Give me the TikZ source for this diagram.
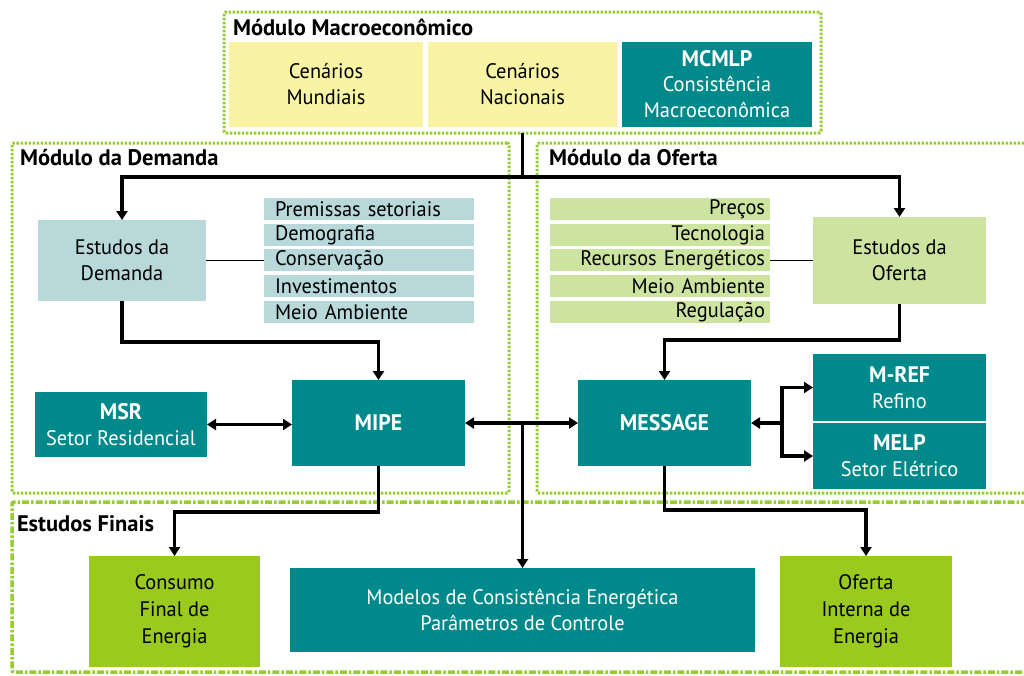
\documentclass[tikz,border=0pt]{standalone}
\usepackage{fontspec}
\setmainfont{PT Sans}[FakeStretch=0.97]
\newfontfamily\titlefont{PT Sans}
\usetikzlibrary{arrows.meta}
\definecolor{cTeal}{RGB}{0,137,139}
\definecolor{cYellow}{RGB}{248,244,164}
\definecolor{cBlue}{RGB}{184,216,218}
\definecolor{cLGreen}{RGB}{205,227,160}
\definecolor{cGreen}{RGB}{154,202,30}
\definecolor{cFrame}{RGB}{153,204,51}
\newcommand{\acr}[1]{{\fontsize{22.5}{26}\selectfont\bfseries #1}}
\begin{document}
\begin{tikzpicture}[x=1pt,y=-1pt,
  blk/.style={inner sep=0pt, outer sep=0pt, align=center, font=\fontsize{21}{26}\selectfont},
  tealbox/.style={blk, fill=cTeal, text=white},
  yelbox/.style={blk, fill=cYellow},
  bluebox/.style={blk, fill=cBlue},
  lgbox/.style={blk, fill=cLGreen},
  grbox/.style={blk, fill=cGreen},
  lbl/.style={inner sep=0pt, outer sep=0pt, anchor=base west, font=\titlefont\fontsize{22.5}{26}\selectfont\bfseries},
  frame/.style={draw=cFrame, line width=3pt, dash pattern=on 2.5pt off 1.5pt, rounded corners=2pt, inner sep=0pt, outer sep=0pt},
  framedd/.style={draw=cFrame, line width=3.5pt, dash pattern=on 7pt off 2pt on 2.5pt off 2pt, rounded corners=2pt, inner sep=0pt, outer sep=0pt},
  conn/.style={line width=3.5pt, black},
  arr/.style={conn, -{Triangle[length=9pt,width=11pt]}},
  dbl/.style={conn, {Triangle[length=9pt,width=11pt]}-{Triangle[length=9pt,width=11pt]}}
]
\useasboundingbox (0,0) rectangle (1024,675);
\clip (0,0) rectangle (1024,675);
\fill[white] (0,0) rectangle (1024,675);

% frames
\node[frame, minimum width=597pt, minimum height=121pt] (fmacro) at (522.5,72.5) {};
\node[frame, minimum width=497pt, minimum height=350pt] (fdem) at (260.5,318) {};
\node[frame, minimum width=493pt, minimum height=350pt] (fofe) at (783.5,318) {};
\node[framedd, minimum width=1018pt, minimum height=170pt] (ffin) at (521,587) {};

\node[lbl] (tmacro) at (233,35) {Módulo Macroeconômico};
\node[lbl] (tdem) at (20,165) {Módulo da Demanda};
\node[lbl] (tofe) at (549,165) {Módulo da Oferta};
\node[lbl] (tfin) at (17,531) {Estudos Finais};

% macro boxes
\node[yelbox, minimum width=194pt, minimum height=85pt] (cm) at (326,84.5) {Cenários\\Mundiais};
\node[yelbox, minimum width=189pt, minimum height=85pt] (cn) at (522.5,84.5) {Cenários\\Nacionais};
\node[tealbox, minimum width=190pt, minimum height=85pt] (mcmlp) at (717,84.5) {\acr{MCMLP}\\[-1pt]Consistência\\Macroeconômica};

% demand
\node[bluebox, minimum width=168pt, minimum height=81pt] (ed) at (122,260.5) {Estudos da\\Demanda};
\foreach \i/\yy/\t in {1/209/Premissas setoriais,2/235/Demografia,3/260/Conservação,4/286/Investimentos,5/312/Meio Ambiente}
  \node[bluebox, align=left, text width=188pt, minimum width=210pt, minimum height=22pt] (dl\i) at (369,\yy) {\t};

% supply
\node[lgbox, minimum width=173pt, minimum height=87pt] (eo) at (899.5,260.5) {Estudos da\\Oferta};
\foreach \i/\yy/\t in {1/209/Preços,2/235/Tecnologia,3/260/Recursos Energéticos,4/286/Meio Ambiente,5/312/Regulação}
  \node[lgbox, align=right, text width=210pt, minimum width=220pt, minimum height=22pt] (sl\i) at (660,\yy) {\t};

% models
\node[tealbox, minimum width=172pt, minimum height=65pt] (msr) at (121,424.5) {\acr{MSR}\\Setor Residencial};
\node[tealbox, minimum width=173pt, minimum height=86pt] (mipe) at (378.5,423) {\acr{MIPE}};
\node[tealbox, minimum width=173pt, minimum height=86pt] (message) at (664.5,423) {\acr{MESSAGE}};
\node[tealbox, minimum width=173pt, minimum height=67pt] (mref) at (899.5,387.5) {\acr{M-REF}\\Refino};
\node[tealbox, minimum width=173pt, minimum height=66pt] (melp) at (899.5,456) {\acr{MELP}\\Setor Elétrico};

% final
\node[grbox, minimum width=171pt, minimum height=111pt, font=\fontsize{21}{27}\selectfont] (consumo) at (174.5,611.5) {Consumo\\Final de\\Energia};
\node[tealbox, minimum width=465pt, minimum height=84pt] (modelos) at (522.5,610) {Modelos de Consistência Energética\\Parâmetros de Controle};
\node[grbox, minimum width=172pt, minimum height=111pt, font=\fontsize{21}{27}\selectfont] (oferta) at (866,611.5) {Oferta\\Interna de\\Energia};

% connectors
\coordinate (j1) at (522.5,177);
\coordinate (j2) at (522.5,423);
\coordinate (j3) at (782,423);
\draw[conn] (fmacro.south) -- (j1);
\draw[arr] (j1) -| (ed.north);
\draw[arr] (j1) -| (eo.north);
\draw[line width=1.5pt] (ed.east) -- (ed.east -| dl3.west);
\draw[line width=1.5pt] (eo.west) -- (eo.west -| sl3.east);
\draw[arr] (ed.south) -- ++(0,41) -| (mipe.north);
\draw[arr] (eo.south) -- ++(0,36) -| (message.north);
\draw[dbl] (msr.east) -- (msr.east -| mipe.west);
\draw[arr] (j2) -- (mipe.east);
\draw[arr] (j2) -- (message.west);
\draw[arr] (j2) -- (modelos.north);
\draw[arr] (j3) -- (message.east);
\draw[arr] (j3) |- (mref.west);
\draw[arr] (j3) |- (melp.west);
\draw[arr] (mipe.south) -- ++(0,46) -| (consumo.north);
\draw[arr] (message.south) -- ++(0,44) -| (oferta.north);
\end{tikzpicture}
\end{document}
